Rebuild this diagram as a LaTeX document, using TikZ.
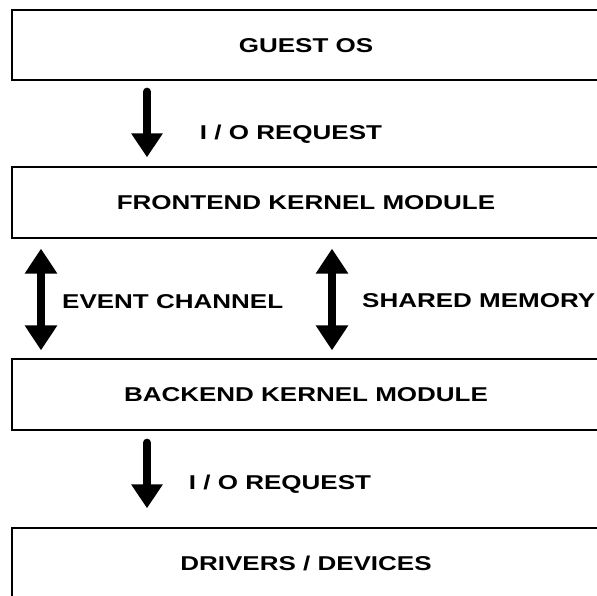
\documentclass[tikz,border=0pt]{standalone}
\usepackage{fontspec}
\usepackage{graphicx}
\setmainfont{Liberation Sans}
\usetikzlibrary{arrows.meta}
\newcommand\stw[1]{\scalebox{1.3}[1]{#1}}
\tikzset{
  labfont/.style={font=\bfseries\fontsize{20}{24}\selectfont},
  box/.style={draw=black, line width=1.3pt, minimum width=588pt, minimum height=71pt,
    inner sep=0pt, labfont, text height=14.5pt, text depth=0pt},
  lbl/.style={inner sep=0pt, labfont, anchor=base},
  bigarrow/.style={line width=8pt, line cap=round, -{Triangle[width=30pt,length=24pt]}},
  dblarrow/.style={line width=8pt, {Triangle[width=31pt,length=25pt]}-{Triangle[width=31pt,length=25pt]}},
}
\begin{document}
\begin{tikzpicture}[x=1pt,y=-1pt]
  \useasboundingbox (0,0) rectangle (597,596);
  \clip (0,0) rectangle (597,596);
  \node[box, minimum height=70pt] (guest) at (306,45) {\stw{GUEST OS}};
  \node[box] (front) at (306,202.5) {\stw{FRONTEND KERNEL MODULE}};
  \node[box] (back) at (306,394.5) {\stw{BACKEND KERNEL MODULE}};
  \node[box] (drv) at (306,563.5) {\stw{DRIVERS / DEVICES}};
  \coordinate (xa) at (147,0);
  \coordinate (xl) at (41,0);
  \coordinate (xr) at (332,0);
  \draw[bigarrow, shorten <=11pt, shorten >=9pt] (guest.south -| xa) -- (front.north -| xa);
  \draw[dblarrow, shorten <=10pt, shorten >=8pt] (front.south -| xl) -- (back.north -| xl);
  \draw[dblarrow, shorten <=10pt, shorten >=8pt] (front.south -| xr) -- (back.north -| xr);
  \draw[bigarrow, shorten <=12pt, shorten >=19pt] (back.south -| xa) -- (drv.north -| xa);
  \node[lbl] (io1) at (291,140) {\stw{I / O REQUEST}};
  \node[lbl, anchor=base west] (ev) at (62,308) {\stw{EVENT CHANNEL}};
  \node[lbl, anchor=base west] (sh) at (362,307) {\stw{SHARED MEMORY}};
  \node[lbl] (io2) at (280,489) {\stw{I / O REQUEST}};
\end{tikzpicture}
\end{document}
